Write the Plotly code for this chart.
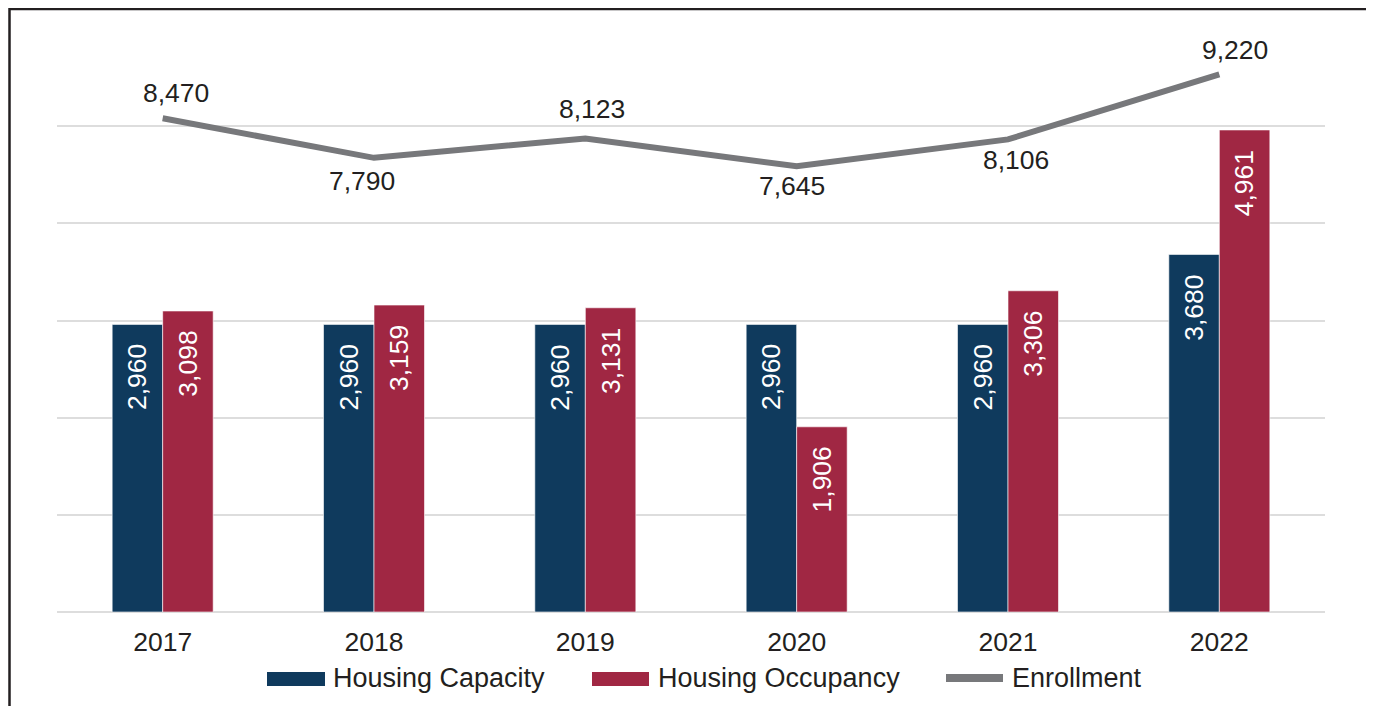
import plotly.graph_objects as go

# ---- data ----
years = ["2017", "2018", "2019", "2020", "2021", "2022"]
housing_capacity = [2960, 2960, 2960, 2960, 2960, 3680]
housing_occupancy = [3098, 3159, 3131, 1906, 3306, 4961]
enrollment = [8470, 7790, 8123, 7645, 8106, 9220]

# ---- style ----
NAVY = "#0F3A5D"
CRIMSON = "#A02743"
GRAY = "#77787B"
TXT = "#231F20"
FONT = "Liberation Sans, Arial, sans-serif"
FS = 26.5

W, H = 1366, 698
OFF = 8  # page body margin
L, R, T, B = 57 - OFF, 1325 - OFF, 29 - OFF, 612 - OFF  # plot area in figure pixels


def px(x):
    """screen x (reference pixels) -> paper coordinate"""
    return (x - OFF - L) / (R - L)


def py(y):
    """screen y (reference pixels) -> paper coordinate"""
    return (B - (y - OFF)) / (B - T)


fig = go.Figure()
fig.add_trace(go.Bar(
    x=years, y=housing_capacity, name="Housing Capacity",
    marker=dict(color=NAVY, line=dict(color="rgba(255,255,255,0.6)", width=1)),
    showlegend=False,
))
fig.add_trace(go.Bar(
    x=years, y=housing_occupancy, name="Housing Occupancy",
    marker=dict(color=CRIMSON, line=dict(color="rgba(255,255,255,0.6)", width=1)),
    showlegend=False,
))
fig.add_trace(go.Scatter(
    x=years, y=enrollment, name="Enrollment", yaxis="y2", mode="lines",
    line=dict(color=GRAY, width=6), showlegend=False,
))

annotations = []
# bar value labels (rotated, near top inside bars)
for series, xs in ((housing_capacity, -25), (housing_occupancy, 25)):
    for i, v in enumerate(series):
        annotations.append(dict(
            x=i, y=v, xref="x", yref="y", text=f"{v:,}", showarrow=False,
            textangle=-90, xshift=xs, yshift=-18, yanchor="top", xanchor="center",
            font=dict(family=FONT, size=FS, color="white"),
        ))

# enrollment labels
lbl_dx = [13, -12, 7, -5, 8, 16]
lbl_dy = [25, -23, 29, -20, -21, 24]
for i, (v, dx, dy) in enumerate(zip(enrollment, lbl_dx, lbl_dy)):
    annotations.append(dict(
        x=i, y=v, xref="x", yref="y2", text=f"{v:,}", showarrow=False,
        xshift=dx, yshift=dy, xanchor="center", yanchor="middle",
        font=dict(family=FONT, size=FS, color=TXT),
    ))

# custom legend
leg_y = 678
shapes = [
    dict(type="rect", xref="paper", yref="paper", x0=px(267), x1=px(325),
         y0=py(686), y1=py(672), fillcolor=NAVY, line=dict(width=0)),
    dict(type="rect", xref="paper", yref="paper", x0=px(592), x1=px(649),
         y0=py(686), y1=py(672), fillcolor=CRIMSON, line=dict(width=0)),
    dict(type="line", xref="paper", yref="paper", x0=px(946), x1=px(1003),
         y0=py(leg_y), y1=py(leg_y), line=dict(color=GRAY, width=8)),
    # outer frame
    dict(type="rect", xref="paper", yref="paper", x0=px(9.5), x1=px(1371.5),
         y0=py(730), y1=py(9), line=dict(color=TXT, width=2.5),
         fillcolor="rgba(0,0,0,0)", layer="above"),
]
for x0, name in ((331, "Housing Capacity"), (656, "Housing Occupancy"), (1010, "Enrollment")):
    annotations.append(dict(
        x=px(x0), y=py(leg_y), xref="paper", yref="paper", text=name,
        showarrow=False, xanchor="left", yanchor="middle",
        font=dict(family=FONT, size=27, color=TXT),
    ))

fig.update_layout(
    width=W, height=H,
    margin=dict(l=L, r=W - R, t=T, b=H - B, pad=0),
    paper_bgcolor="white", plot_bgcolor="white",
    barmode="group", bargap=0.522, bargroupgap=0,
    font=dict(family=FONT, size=FS, color=TXT),
    xaxis=dict(type="category", range=[-0.5, len(years) - 0.5], showline=False,
               ticks="", showgrid=False,
               tickfont=dict(family=FONT, size=FS, color=TXT), ticklabelstandoff=11),
    yaxis=dict(range=[0, 6000], dtick=1000, showticklabels=False, showgrid=True,
               gridcolor="#DDDDDD", gridwidth=2, zeroline=True, zerolinecolor="#DDDDDD",
               zerolinewidth=2, showline=False, ticks=""),
    yaxis2=dict(range=[0, 10000], overlaying="y", side="right", showgrid=False,
                showticklabels=False, zeroline=False, showline=False, ticks=""),
    annotations=annotations,
    shapes=shapes,
    showlegend=False,
)

fig.write_html("out.html")
